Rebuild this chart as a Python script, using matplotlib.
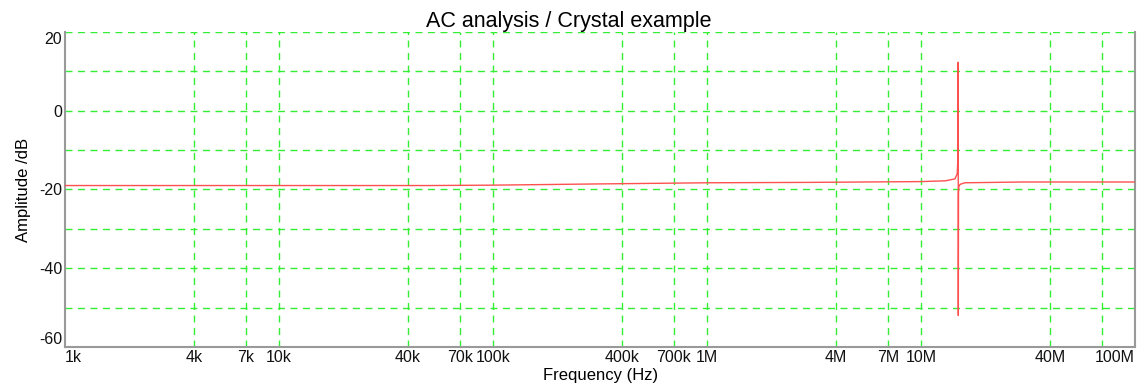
import matplotlib
matplotlib.use("Agg")
import matplotlib.pyplot as plt
import numpy as np

# amplitude response (Hz, dB)
freq_hz = [1e3, 1e4, 5e4, 1e5, 3e5, 1e6, 3e6, 1e7, 1.3e7, 1.44e7, 1.475e7,
           1.485e7, 1.49e7, 1.492e7, 1.495e7, 1.5e7, 1.52e7, 1.6e7, 3e7, 1e8]
amp_db = [-19.0, -19.0, -19.0, -18.9, -18.6, -18.3, -18.2, -18.0, -17.8, -17.3, -16.0,
          -12.0, 12.3, -52.0, -21.0, -19.3, -18.7, -18.3, -18.1, -18.1]

grid_x = [4e3, 7e3, 1e4, 4e4, 7e4, 1e5, 4e5, 7e5, 1e6, 4e6, 7e6, 1e7, 4e7, 7e7]
tick_x = [1e3, 4e3, 7e3, 1e4, 4e4, 7e4, 1e5, 4e5, 7e5, 1e6, 4e6, 7e6, 1e7, 4e7, 1e8]
tick_x_labels = ["1k", "4k", "7k", "10k", "40k", "70k", "100k", "400k", "700k",
                 "1M", "4M", "7M", "10M", "40M", "100M"]
grid_y = [20, 10, 0, -10, -20, -30, -40, -50]
tick_y = [-60, -40, -20, 0, 20]

plt.rcParams["font.family"] = ["Liberation Sans", "DejaVu Sans"]
plt.rcParams["axes.unicode_minus"] = False

fig = plt.figure(figsize=(11.38, 3.85), dpi=100)
ax = fig.add_axes([0.0571, 0.0987, 0.9404, 0.8183])

green = "#33ee33"
for gx in grid_x:
    ax.axvline(gx, color=green, lw=1, ls=(0, (5, 4)), zorder=1)
for gy in grid_y:
    ax.axhline(gy, color=green, lw=1, ls=(0, (5, 4)), zorder=1)

ax.plot(freq_hz, amp_db, color="#ff5050", lw=1, zorder=3)

ax.set_xscale("log")
ax.set_xlim(1e3, 1e8)
ax.set_ylim(-60, 20)
ax.set_xticks(tick_x)
ax.set_xticklabels(tick_x_labels)
ax.xaxis.set_minor_locator(matplotlib.ticker.NullLocator())
ax.set_yticks(tick_y)
ax.set_yticklabels([str(v) for v in tick_y])
ax.tick_params(length=0, labelsize=11.5, colors="#111111", pad=2)

xl = ax.get_xticklabels()
xl[0].set_ha("left")
xl[-1].set_ha("right")
yl = ax.get_yticklabels()
yl[0].set_va("bottom")   # -60 sits above the bottom edge
yl[-1].set_va("top")     # 20 sits below the top edge

for side in ["left", "bottom", "right"]:
    ax.spines[side].set_color("#999999")
    ax.spines[side].set_linewidth(1.5)
ax.spines["top"].set_visible(False)

fig.text(0.5, 0.945, "AC analysis / Crystal example", fontsize=15.5,
         ha="center", va="center")
ax.set_xlabel("Frequency (Hz)", fontsize=12, labelpad=2)
ax.set_ylabel("Amplitude /dB", fontsize=12, labelpad=6)

fig.savefig("out.png", dpi=100, facecolor="white")
